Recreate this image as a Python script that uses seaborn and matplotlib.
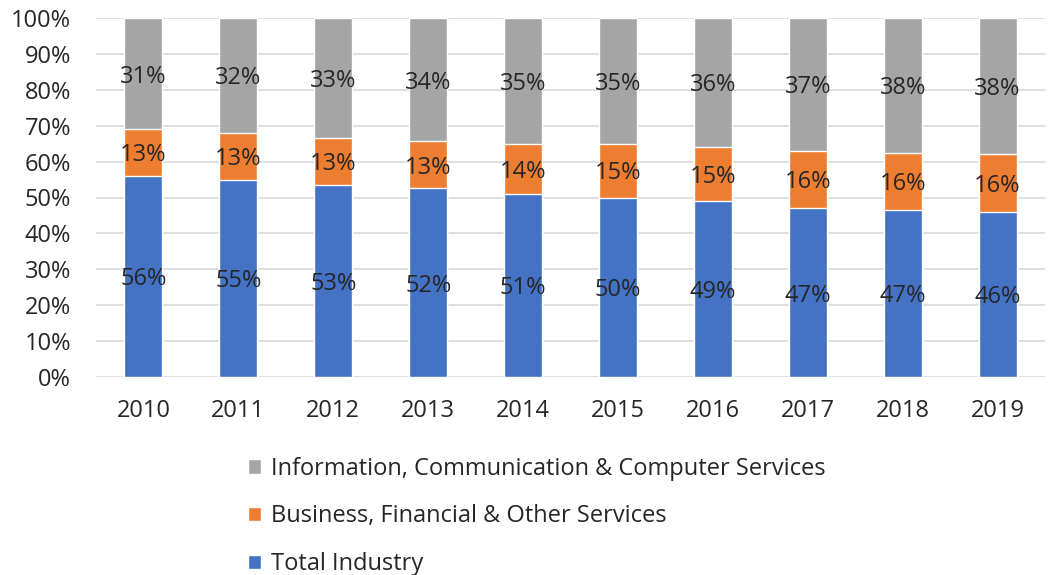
import pandas as pd
import seaborn as sns
import matplotlib.pyplot as plt
from matplotlib.patches import Patch

years = ['2010', '2011', '2012', '2013', '2014', '2015', '2016', '2017', '2018', '2019']
total_industry = [56, 55, 53, 52, 51, 50, 49, 47, 47, 46]
business_fin = [13, 13, 13, 13, 14, 15, 15, 16, 16, 16]
info_comm = [31, 32, 33, 34, 35, 35, 36, 37, 38, 38]

series_names = ['Total Industry', 'Business, Financial & Other Services',
                'Information, Communication & Computer Services']
colors = ['#4472C4', '#ED7D31', '#A5A5A5']

#%%
# build 100% stacked table
df = pd.DataFrame({'Year': years, 'blue': total_industry, 'orange': business_fin, 'gray': info_comm})
df['sum'] = df.blue + df.orange + df.gray
df['top_blue'] = df.blue / df['sum']
df['top_orange'] = (df.blue + df.orange) / df['sum']
df['top_gray'] = 1.0

#%%
sns.set_theme(style='white')
plt.rcParams['font.family'] = ['Open Sans', 'DejaVu Sans']
fs = 17
txt = '#262626'
dy = -0.008  # labels sit a touch low in the original

fig = plt.figure(figsize=(10.49, 5.75), dpi=100)
ax = fig.add_axes([96 / 1049, 1 - 377 / 575, (1045 - 96) / 1049, (377 - 18) / 575])

# draw tallest first, shorter on top
sns.barplot(data=df, x='Year', y='top_gray', color=colors[2], width=0.4, saturation=1, ax=ax, zorder=2)
sns.barplot(data=df, x='Year', y='top_orange', color=colors[1], width=0.4, saturation=1, ax=ax, zorder=2)
sns.barplot(data=df, x='Year', y='top_blue', color=colors[0], width=0.4, saturation=1, ax=ax, zorder=2)

# labels centred in each segment
for i, row in df.iterrows():
    ax.text(i, row.top_blue / 2 + dy, f'{row.blue}%', ha='center', va='center', fontsize=fs, color=txt, zorder=3)
    ax.text(i, (row.top_blue + row.top_orange) / 2 + dy, f'{row.orange}%', ha='center', va='center',
            fontsize=fs, color=txt, zorder=3)
    ax.text(i, (row.top_orange + 1) / 2 + dy, f'{row.gray}%', ha='center', va='center', fontsize=fs,
            color=txt, zorder=3)

ax.set_ylim(0, 1)
ax.set_xlim(-0.5, 9.5)
ax.set_yticks([i / 10 for i in range(11)])
ax.set_yticklabels([f'{i * 10}%' for i in range(11)])
ax.yaxis.grid(True, color='#D9D9D9', linewidth=1.2, zorder=0)
ax.set_axisbelow(True)
ax.tick_params(axis='both', labelsize=fs, colors=txt, length=0)
ax.tick_params(axis='y', pad=18)
ax.tick_params(axis='x', pad=16)
ax.set_xlabel('')
ax.set_ylabel('')
sns.despine(ax=ax, left=True, bottom=True)

handles = [Patch(facecolor=colors[2]), Patch(facecolor=colors[1]), Patch(facecolor=colors[0])]
fig.legend(handles, series_names[::-1], loc='upper left', bbox_to_anchor=(236 / 1049, 1 - 445 / 575),
           frameon=False, fontsize=fs, labelcolor=txt, handlelength=0.55, handleheight=0.55,
           handletextpad=0.45, labelspacing=1.0, borderpad=0)

fig.savefig('out.png', dpi=100)
